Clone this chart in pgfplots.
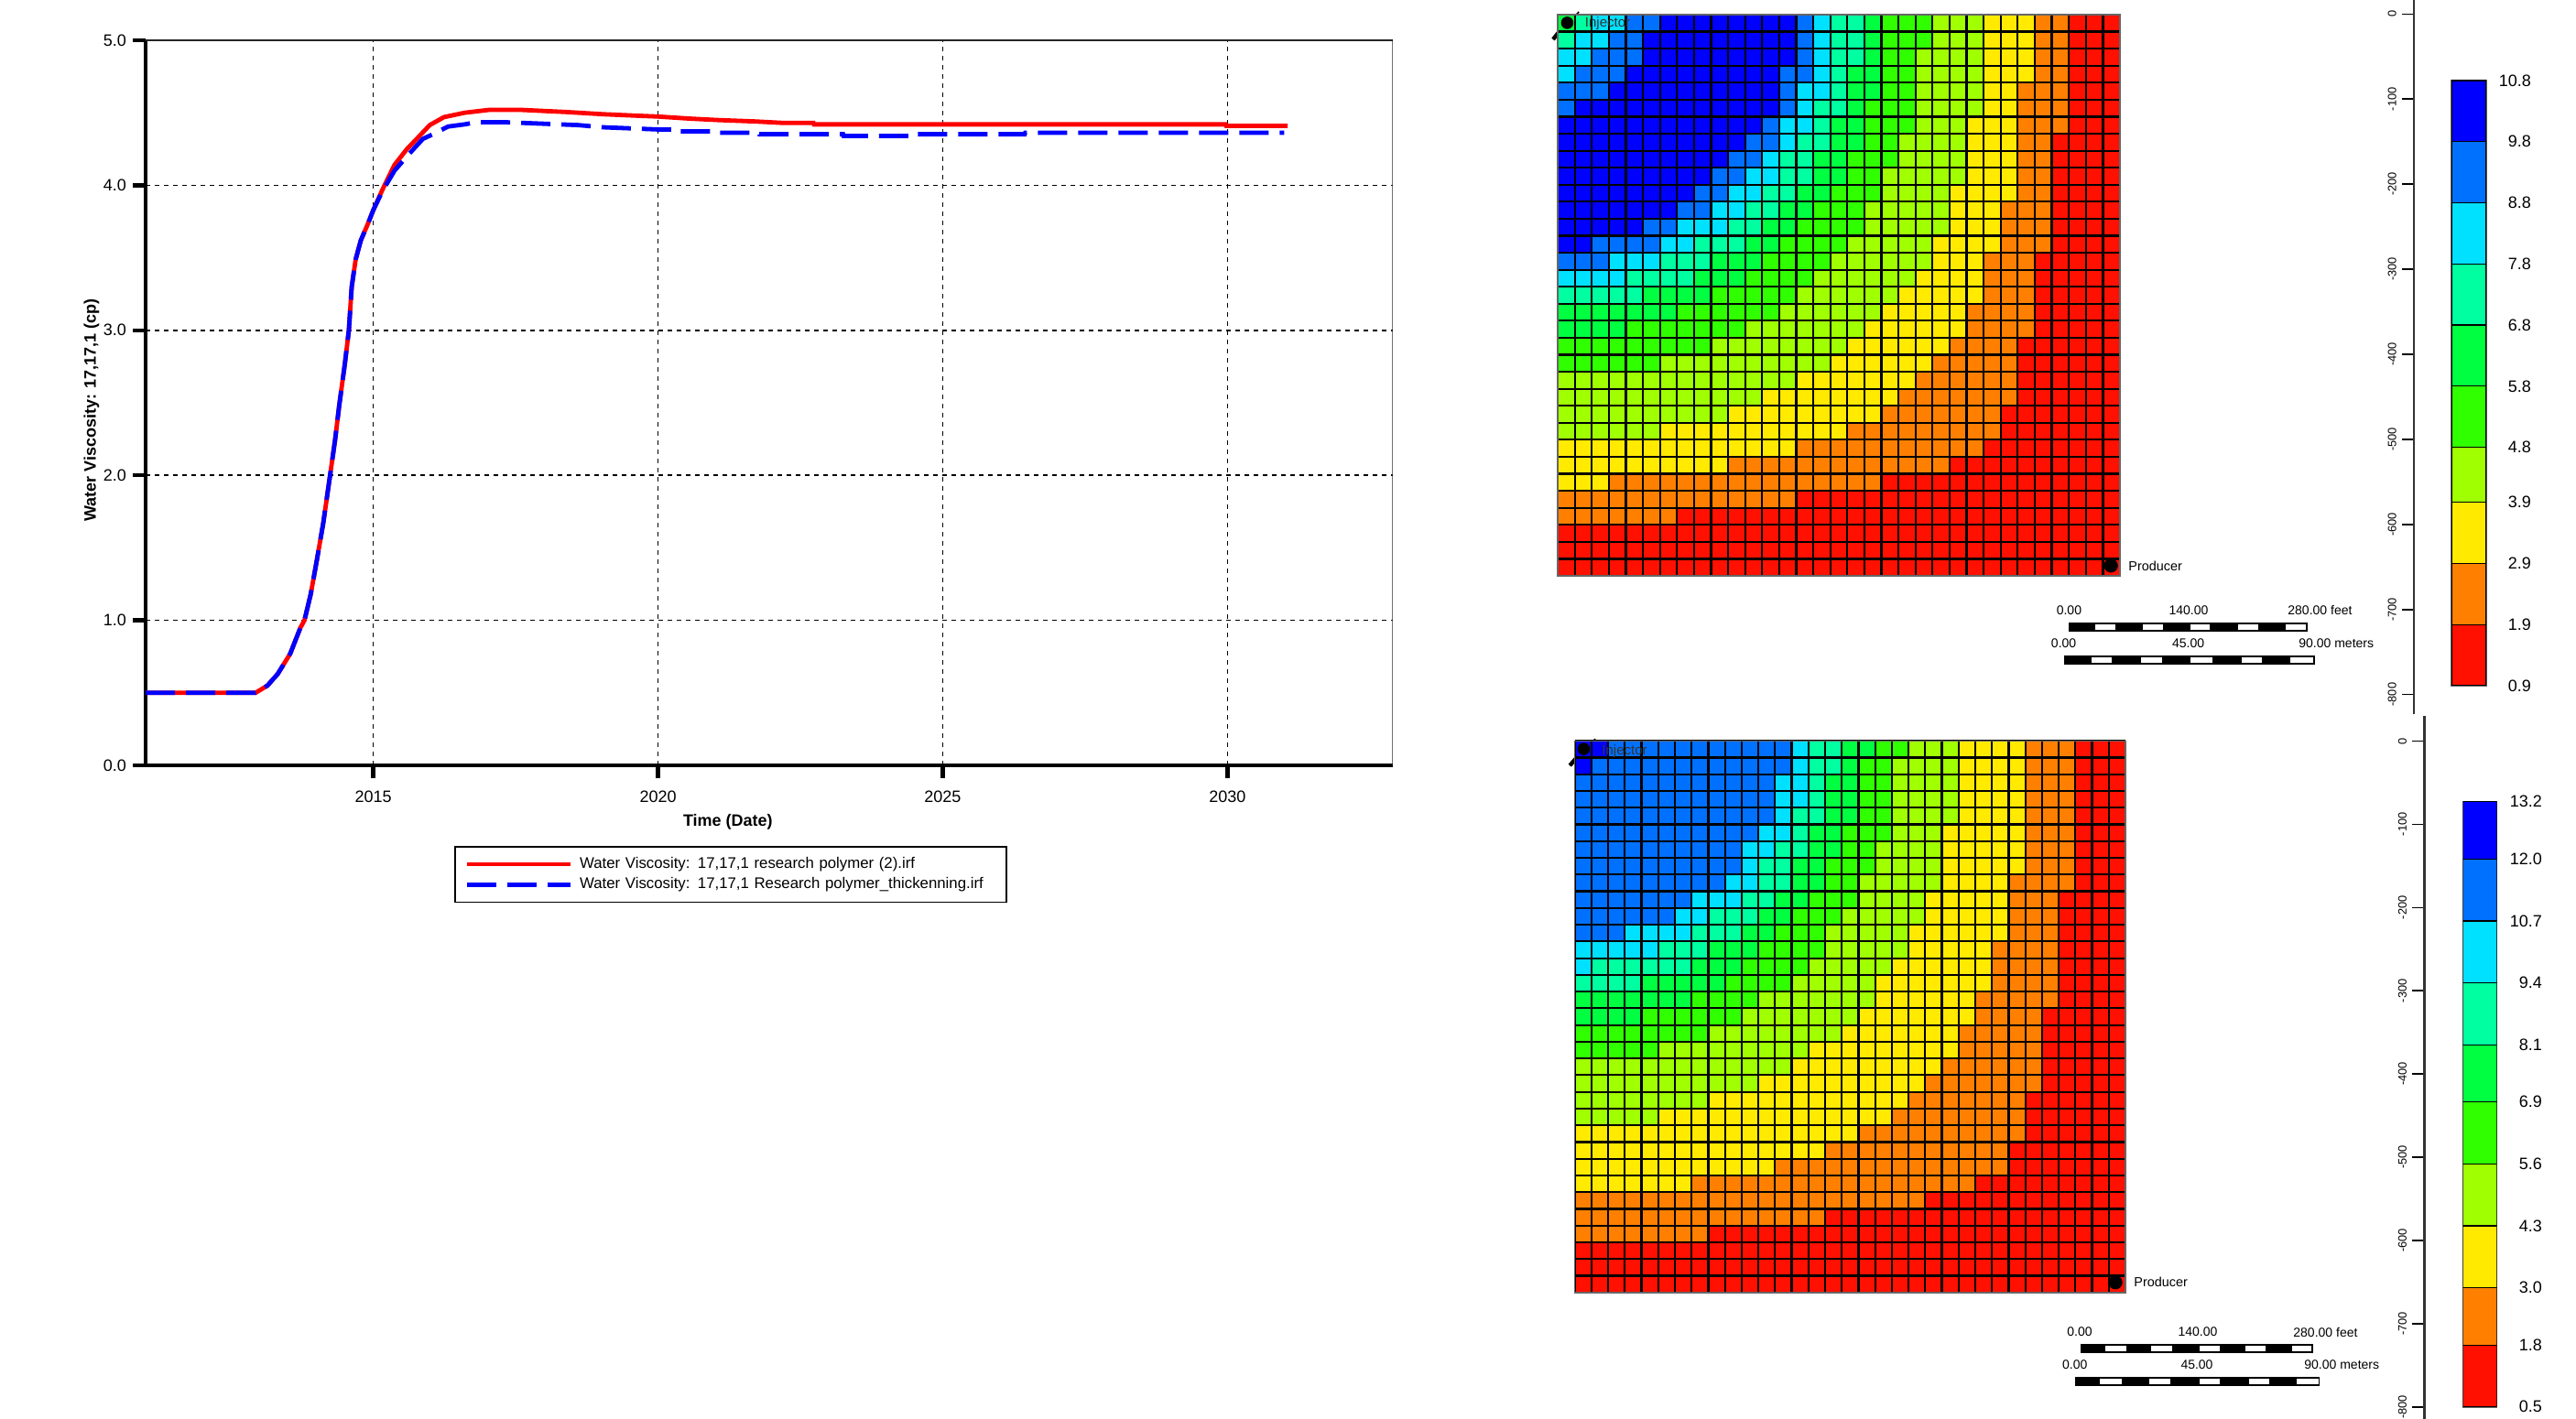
\documentclass[border=0pt]{standalone}
\usepackage{fontspec}
\setmainfont{Liberation Sans}
\usepackage{pgfplots}
\usepackage{pgfplotstable}
\pgfplotsset{compat=1.18}
\definecolor{k0}{HTML}{FF1000}
\definecolor{k1}{HTML}{FF8000}
\definecolor{k2}{HTML}{FFEA00}
\definecolor{k3}{HTML}{A0FF00}
\definecolor{k4}{HTML}{30FF00}
\definecolor{k5}{HTML}{00FF40}
\definecolor{k6}{HTML}{00FFA0}
\definecolor{k7}{HTML}{00E0FF}
\definecolor{k8}{HTML}{0070FF}
\definecolor{k9}{HTML}{0000FF}
\newcommand\fs[1]{\fontsize{#1}{#1}\selectfont}
% cells of each colour class, left to right, for every grid row
\pgfplotstableread{
r a5 a6 a7 a8 a9 b8 b7 b6 b5 b4 b3 b2 b1 b0
1 1 1 2 2 8 1 1 2 1 3 3 3 2 3
2 0 1 2 2 9 1 1 2 1 3 3 3 2 3
3 0 0 2 3 9 1 1 2 1 2 4 3 2 3
4 0 0 1 3 9 2 1 1 2 2 4 3 2 3
5 0 0 0 3 10 1 2 1 2 2 4 2 3 3
6 0 0 0 1 12 1 1 2 1 3 4 2 3 3
7 0 0 0 0 12 1 2 1 2 3 3 3 3 3
8 0 0 0 0 11 2 1 2 2 2 4 3 2 4
9 0 0 0 0 10 2 1 2 2 3 4 3 2 4
10 0 0 0 0 9 2 2 2 2 2 5 3 2 4
11 0 0 0 0 8 2 2 2 2 3 4 4 2 4
12 0 0 0 0 7 2 2 2 2 3 5 3 3 4
13 0 0 0 0 5 2 3 2 2 4 5 3 3 4
14 0 0 0 0 2 4 2 3 2 4 5 4 3 4
15 0 0 0 0 0 3 3 3 3 4 6 3 3 5
16 0 0 0 0 0 0 4 4 3 4 6 4 3 5
17 0 0 0 0 0 0 0 5 4 5 6 5 3 5
18 0 0 0 0 0 0 0 0 7 6 6 5 4 5
19 0 0 0 0 0 0 0 0 4 7 7 6 4 5
20 0 0 0 0 0 0 0 0 0 9 8 6 4 6
21 0 0 0 0 0 0 0 0 0 6 10 6 5 6
22 0 0 0 0 0 0 0 0 0 0 14 7 6 6
23 0 0 0 0 0 0 0 0 0 0 12 8 7 6
24 0 0 0 0 0 0 0 0 0 0 10 9 7 7
25 0 0 0 0 0 0 0 0 0 0 6 11 9 7
26 0 0 0 0 0 0 0 0 0 0 0 14 11 8
27 0 0 0 0 0 0 0 0 0 0 0 10 13 10
28 0 0 0 0 0 0 0 0 0 0 0 3 16 14
29 0 0 0 0 0 0 0 0 0 0 0 0 14 19
30 0 0 0 0 0 0 0 0 0 0 0 0 7 26
31 0 0 0 0 0 0 0 0 0 0 0 0 0 33
32 0 0 0 0 0 0 0 0 0 0 0 0 0 33
33 0 0 0 0 0 0 0 0 0 0 0 0 0 33
}\gridtop
\pgfplotstableread{
r a5 a6 a7 a8 a9 b8 b7 b6 b5 b4 b3 b2 b1 b0
1 0 0 0 0 2 11 1 2 2 2 3 4 3 3
2 0 0 0 0 1 12 1 2 1 2 4 4 3 3
3 0 0 0 0 0 12 2 1 2 2 4 4 3 3
4 0 0 0 0 0 12 2 1 2 2 4 4 3 3
5 0 0 0 0 0 12 1 2 2 2 4 4 3 3
6 0 0 0 0 0 11 2 1 2 3 3 5 3 3
7 0 0 0 0 0 10 2 2 2 2 4 5 3 3
8 0 0 0 0 0 10 1 2 2 3 4 5 3 3
9 0 0 0 0 0 9 2 2 2 2 5 4 4 3
10 0 0 0 0 0 7 3 2 2 3 4 5 3 4
11 0 0 0 0 0 6 2 3 2 3 5 5 3 4
12 0 0 0 0 0 3 4 3 2 3 5 6 3 4
13 0 0 0 0 0 0 5 3 3 4 5 5 4 4
14 0 0 0 0 0 0 1 6 3 4 5 6 4 4
15 0 0 0 0 0 0 0 4 5 4 5 7 4 4
16 0 0 0 0 0 0 0 0 7 4 7 6 5 4
17 0 0 0 0 0 0 0 0 4 6 7 7 4 5
18 0 0 0 0 0 0 0 0 0 8 8 7 5 5
19 0 0 0 0 0 0 0 0 0 5 9 9 5 5
20 0 0 0 0 0 0 0 0 0 0 13 9 6 5
21 0 0 0 0 0 0 0 0 0 0 11 10 7 5
22 0 0 0 0 0 0 0 0 0 0 8 12 7 6
23 0 0 0 0 0 0 0 0 0 0 5 14 8 6
24 0 0 0 0 0 0 0 0 0 0 0 17 10 6
25 0 0 0 0 0 0 0 0 0 0 0 15 11 7
26 0 0 0 0 0 0 0 0 0 0 0 12 14 7
27 0 0 0 0 0 0 0 0 0 0 0 7 17 9
28 0 0 0 0 0 0 0 0 0 0 0 0 21 12
29 0 0 0 0 0 0 0 0 0 0 0 0 15 18
30 0 0 0 0 0 0 0 0 0 0 0 0 8 25
31 0 0 0 0 0 0 0 0 0 0 0 0 0 33
32 0 0 0 0 0 0 0 0 0 0 0 0 0 33
33 0 0 0 0 0 0 0 0 0 0 0 0 0 33
}\gridbot
\newcommand\cellbars[1]{%
\addplot[fill=k5,draw=none] table[x=a5,y=r]{#1};
\addplot[fill=k6,draw=none] table[x=a6,y=r]{#1};
\addplot[fill=k7,draw=none] table[x=a7,y=r]{#1};
\addplot[fill=k8,draw=none] table[x=a8,y=r]{#1};
\addplot[fill=k9,draw=none] table[x=a9,y=r]{#1};
\addplot[fill=k8,draw=none] table[x=b8,y=r]{#1};
\addplot[fill=k7,draw=none] table[x=b7,y=r]{#1};
\addplot[fill=k6,draw=none] table[x=b6,y=r]{#1};
\addplot[fill=k5,draw=none] table[x=b5,y=r]{#1};
\addplot[fill=k4,draw=none] table[x=b4,y=r]{#1};
\addplot[fill=k3,draw=none] table[x=b3,y=r]{#1};
\addplot[fill=k2,draw=none] table[x=b2,y=r]{#1};
\addplot[fill=k1,draw=none] table[x=b1,y=r]{#1};
\addplot[fill=k0,draw=none] table[x=b0,y=r]{#1};
}
\pgfplotsset{
 gridaxis/.style={scale only axis,xbar stacked,bar width=1,clip=false,
  xmin=0,xmax=33,ymin=0.5,ymax=33.5,y dir=reverse,
  xtick={0,1,...,33},ytick={0.5,1.5,...,33.5},
  xticklabels={},yticklabels={},major tick length=0pt,
  grid=major,grid style={black,line width=1.1pt},axis on top,
  axis line style={black!60,line width=.8pt}},
 rulerbase/.style={scale only axis,width=1pt,xmin=0,xmax=1,
  axis x line=none,axis y line=left,
  y axis line style={-,black!80,line width=1.1pt},
  ytick={0,-100,-200,-300,-400,-500,-600,-700,-800},
  yticklabels={0,-100,-200,-300,-400,-500,-600,-700,-800},
  tick style={black,line width=.8pt},major tick length=6.5pt,tick align=outside,
  yticklabel style={font=\fs{6.4},rotate=90,anchor=south,inner sep=0pt,yshift=3pt}},
 barbase/.style={scale only axis,ybar stacked,bar width=1,xmin=0.5,xmax=1.5,
  xtick=\empty,yticklabel pos=right,major tick length=0pt,
  axis line style={black!60,line width=.8pt},
  yticklabel style={font=\fs{9},anchor=east}},
 seg/.style={fill=#1,draw=black,line width=.6pt},
 wellline/.style={black,sharp plot,stack plots=false,line width=#1},
 welldot/.style={black,only marks,stack plots=false,mark=*,mark size=#1}
}
\begin{document}
\begin{tikzpicture}
\useasboundingbox (0,0) rectangle (1406.5pt,-775pt);
% line chart
\begin{axis}[at={(79.5pt,-418pt)},anchor=south west,scale only axis,
 width=680.8pt,height=396pt,xmin=2011,xmax=2032.9,ymin=0,ymax=5,
 axis x line*=bottom,axis y line*=left,
 x axis line style={-,line width=2.25pt},y axis line style={-,line width=2.25pt},
 xtick={2015,2020,2025,2030},ytick={0,1,2,3,4,5},
 /pgf/number format/assume math mode=true,
 xticklabel style={/pgf/number format/1000 sep={},font=\fs{9},yshift=-3.5pt},
 yticklabel style={/pgf/number format/fixed,/pgf/number format/fixed zerofill,/pgf/number format/precision=1,font=\fs{9}},
 tick align=outside,major tick length=7pt,tick style={black,line width=2.2pt},
 grid=major,grid style={black,line width=.8pt,dash pattern=on 2.5pt off 2.5pt},
 xlabel={\bfseries Time (Date)},ylabel={\bfseries Water Viscosity: 17,17,1 (cp)},
 xlabel style={font=\fs{9},at={(axis description cs:0.467,-0.0783)},anchor=center},
 ylabel style={font=\fs{9},at={(axis description cs:-0.0433,0.49)},anchor=center},
 legend image code/.code={\draw[#1] (0pt,0pt) -- (56.5pt,0pt);},
 legend style={at={(axis description cs:0.2478,-0.111)},anchor=north west,
  font=\fs{8.4},draw=black,line width=.9pt,inner xsep=5pt,inner ysep=4pt,
  row sep=0pt,
  nodes={inner ysep=1.8pt,inner xsep=4pt,text width=224pt,align=left}},
]
\addplot[red,line width=2.4pt] coordinates {
(2011,0.5)(2012.93,0.5)(2013.14,0.55)(2013.32,0.63)(2013.54,0.77)(2013.72,0.95)(2013.79,1.0)(2013.90,1.18)(2014.01,1.42)(2014.12,1.67)(2014.24,2.0)(2014.33,2.25)(2014.40,2.48)(2014.50,2.77)(2014.57,3.0)(2014.62,3.3)(2014.69,3.49)(2014.78,3.62)(2014.91,3.74)(2015,3.83)(2015.16,3.97)(2015.37,4.14)(2015.59,4.25)(2015.81,4.34)(2015.99,4.415)(2016.24,4.47)(2016.6,4.50)(2017.03,4.52)(2017.6,4.52)(2018.4,4.505)(2019.04,4.49)(2019.62,4.48)(2020,4.474)(2020.55,4.46)(2021.05,4.45)(2021.72,4.44)(2022.2,4.43)(2022.73,4.43)(2022.74,4.42)(2029.97,4.42)(2029.98,4.41)(2031.06,4.41)};
\addlegendentry{Water Viscosity: 17,17,1 research polymer (2).irf}
\addplot[blue,line width=2.4pt,dash pattern=on 16pt off 6pt] coordinates {
(2011,0.5)(2012.93,0.5)(2013.14,0.55)(2013.32,0.63)(2013.54,0.77)(2013.72,0.95)(2013.79,1.0)(2013.90,1.18)(2014.01,1.42)(2014.12,1.67)(2014.24,2.0)(2014.33,2.25)(2014.40,2.48)(2014.50,2.77)(2014.57,3.0)(2014.62,3.3)(2014.69,3.49)(2014.78,3.62)(2014.91,3.74)(2015,3.83)(2015.16,3.96)(2015.37,4.10)(2015.59,4.20)(2015.87,4.32)(2016.09,4.36)(2016.31,4.405)(2016.6,4.42)(2016.81,4.435)(2017.3,4.435)(2017.96,4.425)(2018.6,4.415)(2019.04,4.40)(2020,4.385)(2020.28,4.385)(2020.29,4.372)(2021,4.372)(2021.01,4.362)(2021.77,4.362)(2021.78,4.352)(2023.25,4.352)(2023.26,4.34)(2024.54,4.34)(2024.55,4.352)(2026.44,4.352)(2026.45,4.362)(2031.0,4.362)};
\addlegendentry{Water Viscosity: 17,17,1 Research polymer\_thickenning.irf}
\draw[black!85,line width=.9pt] (rel axis cs:0,1) -- (rel axis cs:1,1) -- (rel axis cs:1,0);
\end{axis}
% top grid
\begin{axis}[gridaxis,at={(850.5pt,-8pt)},anchor=north west,width=307pt,height=306.5pt]
\cellbars{\gridtop}
\addplot[wellline=.8pt] coordinates {(1.24,0.34)(-0.27,1.95)};
\addplot[wellline=2.2pt] coordinates {(0.2,1.36)(-0.27,1.95)};
\addplot[welldot=3.2pt] coordinates {(0.56,0.98)};
\addplot[welldot=3.6pt] coordinates {(32.47,32.9)};
\end{axis}
% bottom grid
\begin{axis}[gridaxis,at={(859.8pt,-404.65pt)},anchor=north west,width=300.7pt,height=301.2pt]
\cellbars{\gridbot}
\addplot[wellline=.8pt] coordinates {(1.23,0.38)(-0.29,1.97)};
\addplot[wellline=2.2pt] coordinates {(0.2,1.4)(-0.29,1.97)};
\addplot[welldot=3.2pt] coordinates {(0.54,0.98)};
\addplot[welldot=3.6pt] coordinates {(32.4,32.9)};
\end{axis}
% rulers
\begin{axis}[rulerbase,at={(1318pt,0pt)},anchor=north west,height=390pt,ymin=-823,ymax=16.5]
\addplot[draw=none] coordinates {(0,0)};
\end{axis}
\begin{axis}[rulerbase,at={(1323.7pt,-391pt)},anchor=north west,height=384pt,ymin=-814.4,ymax=30.2]
\addplot[draw=none] coordinates {(0,0)};
\end{axis}
% colour bars
\begin{axis}[barbase,at={(1338.5pt,-44pt)},anchor=north west,width=19pt,height=330.5pt,
 ymin=0.9,ymax=10.8,ytick={0.9,1.9,2.9,3.9,4.8,5.8,6.8,7.8,8.8,9.8,10.8},
 yticklabels={0.9,1.9,2.9,3.9,4.8,5.8,6.8,7.8,8.8,9.8,10.8},
 yticklabel style={xshift=28pt}]
\addplot[fill=none,draw=none] coordinates {(1,0.9)};
\addplot[seg=k0] coordinates {(1,1.0)};
\addplot[seg=k1] coordinates {(1,1.0)};
\addplot[seg=k2] coordinates {(1,1.0)};
\addplot[seg=k3] coordinates {(1,0.9)};
\addplot[seg=k4] coordinates {(1,1.0)};
\addplot[seg=k5] coordinates {(1,1.0)};
\addplot[seg=k6] coordinates {(1,1.0)};
\addplot[seg=k7] coordinates {(1,1.0)};
\addplot[seg=k8] coordinates {(1,1.0)};
\addplot[seg=k9] coordinates {(1,1.0)};
\end{axis}
\begin{axis}[barbase,at={(1344.75pt,-437.9pt)},anchor=north west,width=18.5pt,height=330.5pt,
 ymin=0.5,ymax=13.2,ytick={0.5,1.8,3.0,4.3,5.6,6.9,8.1,9.4,10.7,12.0,13.2},
 yticklabels={0.5,1.8,3.0,4.3,5.6,6.9,8.1,9.4,10.7,12.0,13.2},
 yticklabel style={xshift=28.2pt}]
\addplot[fill=none,draw=none] coordinates {(1,0.5)};
\addplot[seg=k0] coordinates {(1,1.3)};
\addplot[seg=k1] coordinates {(1,1.2)};
\addplot[seg=k2] coordinates {(1,1.3)};
\addplot[seg=k3] coordinates {(1,1.3)};
\addplot[seg=k4] coordinates {(1,1.3)};
\addplot[seg=k5] coordinates {(1,1.2)};
\addplot[seg=k6] coordinates {(1,1.3)};
\addplot[seg=k7] coordinates {(1,1.3)};
\addplot[seg=k8] coordinates {(1,1.3)};
\addplot[seg=k9] coordinates {(1,1.2)};
\end{axis}
% annotations, in reference pixels
\begin{scope}[x=.5pt,y=-.5pt]
\node[font=\fs{7.5},anchor=west,inner sep=0pt,text=black!80] at (1730.5,26) {Injector};
\node[font=\fs{7.5},anchor=west,inner sep=0pt,text=black!80] at (1749,820.7) {Injector};
\node[font=\fs{7.2},anchor=west,inner sep=0pt] at (2324,618) {Producer};
\node[font=\fs{7.2},anchor=west,inner sep=0pt] at (2330,1400.7) {Producer};
\fill[black] (2259.4,680) rectangle (2519.8,690);
\foreach \a/\b in {2288/2309.5,2340/2361.5,2391.6/2413.4,2443.5/2465.8,2496/2517.8}
  \fill[white] (\a,681.7) rectangle (\b,687.7);
\fill[black] (2253.6,716) rectangle (2527.6,726);
\foreach \a/\b in {2284/2305.5,2337.6/2361,2391.6/2415.8,2447.5/2469.7,2501.4/2525.6}
  \fill[white] (\a,717.7) rectangle (\b,724);
\fill[black] (2271.7,1468.3) rectangle (2525.7,1477.7);
\foreach \a/\b in {2299.3/2321.7,2349.3/2371.7,2401.7/2424,2451.7/2474,2503.3/2524}
  \fill[white] (\a,1470) rectangle (\b,1476);
\fill[black] (2265.7,1504) rectangle (2533.3,1514);
\foreach \a/\b in {2293.3/2317.3,2347.3/2370,2401.7/2424,2455.7/2477.7,2507.7/2531.7}
  \fill[white] (\a,1506) rectangle (\b,1512.3);
\node[font=\fs{7},inner sep=0pt] at (2259.4,667) {0.00};
\node[font=\fs{7},inner sep=0pt] at (2390,667) {140.00};
\node[font=\fs{7},inner sep=0pt,anchor=west] at (2498,667) {280.00 feet};
\node[font=\fs{7},inner sep=0pt] at (2253.6,703) {0.00};
\node[font=\fs{7},inner sep=0pt] at (2389.6,703) {45.00};
\node[font=\fs{7},inner sep=0pt,anchor=west] at (2510,703) {90.00 meters};
\node[font=\fs{7},inner sep=0pt] at (2271,1455) {0.00};
\node[font=\fs{7},inner sep=0pt] at (2400,1455) {140.00};
\node[font=\fs{7},inner sep=0pt,anchor=west] at (2504,1455) {280.00 feet};
\node[font=\fs{7},inner sep=0pt] at (2265.7,1491) {0.00};
\node[font=\fs{7},inner sep=0pt] at (2399,1491) {45.00};
\node[font=\fs{7},inner sep=0pt,anchor=west] at (2516,1491) {90.00 meters};
\end{scope}
\end{tikzpicture}
\end{document}
